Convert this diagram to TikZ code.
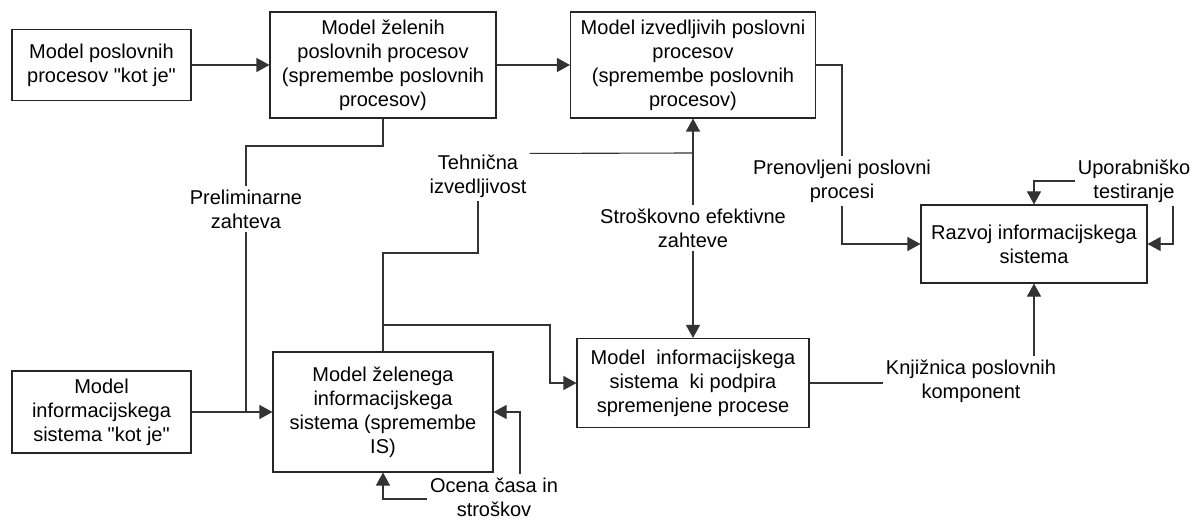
\documentclass[tikz,border=0pt]{standalone}
\usepackage{fontspec}
\setmainfont{Liberation Sans}[Ligatures=TeXOff]
\usetikzlibrary{arrows.meta}
\newcommand{\qq}{\symbol{34}}
\begin{document}
\begin{tikzpicture}[x=1pt,y=-1pt,
  every node/.style={font=\fontsize{20}{24}\selectfont},
  box/.style={draw=black!85, line width=1.1pt, inner sep=0pt, align=center},
  lbl/.style={inner sep=3pt, align=center},
  link/.style={draw=black!80, line width=1.1pt},
  arr/.style={link, -{Triangle[length=13pt,width=14pt]}}]
\useasboundingbox (0,0) rectangle (1198,521);

% process boxes
\node[box, minimum width=179pt, minimum height=71pt]  (A) at (101.5,65) {Model poslovnih\\procesov \qq kot je\qq};
\node[box, minimum width=226pt, minimum height=106pt] (B) at (383,65)   {Model želenih\\poslovnih procesov\\(spremembe poslovnih\\procesov)};
\node[box, minimum width=245pt, minimum height=106pt] (C) at (693,65)   {Model izvedljivih poslovni\\procesov\\(spremembe poslovnih\\procesov)};
\node[box, minimum width=226pt, minimum height=78pt]  (D) at (1034,244) {Razvoj informacijskega\\sistema};
\node[box, minimum width=179pt, minimum height=82pt]  (E) at (101.5,412) {Model\\informacijskega\\sistema \qq kot je\qq};
\node[box, minimum width=220pt, minimum height=120pt] (F) at (383,412)  {Model želenega\\informacijskega\\sistema (spremembe\\IS)};
\node[box, minimum width=232pt, minimum height=89pt]  (G) at (693,383)  {Model\ \ informacijskega\\sistema\ \ ki podpira\\spremenjene procese};

% flow labels
\node[lbl] (prel)   at (246,209)  {Preliminarne\\zahteva};
\node[lbl] (tech)   at (478,176)  {Tehnična\\izvedljivost};
\node[lbl] (stros)  at (693,228)  {Stroškovno efektivne\\zahteve};
\node[lbl] (prenov) at (842,181)  {Prenovljeni poslovni\\procesi};
\node[lbl] (upor)   at (1134,181) {Uporabniško\\testiranje};
\node[lbl] (knj)    at (971,381)  {Knjižnica poslovnih\\komponent};
\node[lbl] (oc)     at (494,497)  {Ocena časa in\\stroškov};

% junction points
\coordinate (j1) at (693,153);

% connectors
\draw[arr] (A.east) -- (B.west);
\draw[arr] (B.east) -- (C.west);
\draw[arr] (E.east) -- (F.west);

\draw[link] (B.south) -- (383,146) -- (prel.north |- 383,146) -- (prel.north);
\draw[link] (prel.south) -- (prel.south |- F.west);

\draw[link] (F.north) -- (383,253) -- (tech.south |- 383,253) -- (tech.south);
\draw[link] ([yshift=-2pt]tech.north east) -- (j1);
\draw[arr] (stros.north) -- (C.south);
\draw[arr] (stros.south) -- (G.north);
\draw[arr] (383,325) -- (550,325) -- (550,0 |- G.west) -- (G.west);

\draw[link] (C.east) -- (C.east -| prenov.north) -- (prenov.north);
\draw[arr] (prenov.south) -- (prenov.south |- D.west) -- (D.west);

\draw[arr] (upor.west) -- (upor.west -| D.north) -- (D.north);
\draw[arr] (upor.south -| 1173,0) -- (1173,0 |- D.east) -- (D.east);

\draw[link] (G.east) -- (G.east -| knj.west);
\draw[arr] (knj.north -| D.south) -- (D.south);

\draw[arr] (oc.north -| 520,0) -- (520,0 |- F.east) -- (F.east);
\draw[arr] (oc.west |- 0,499) -- (F.south |- 0,499) -- (F.south);
\end{tikzpicture}
\end{document}
